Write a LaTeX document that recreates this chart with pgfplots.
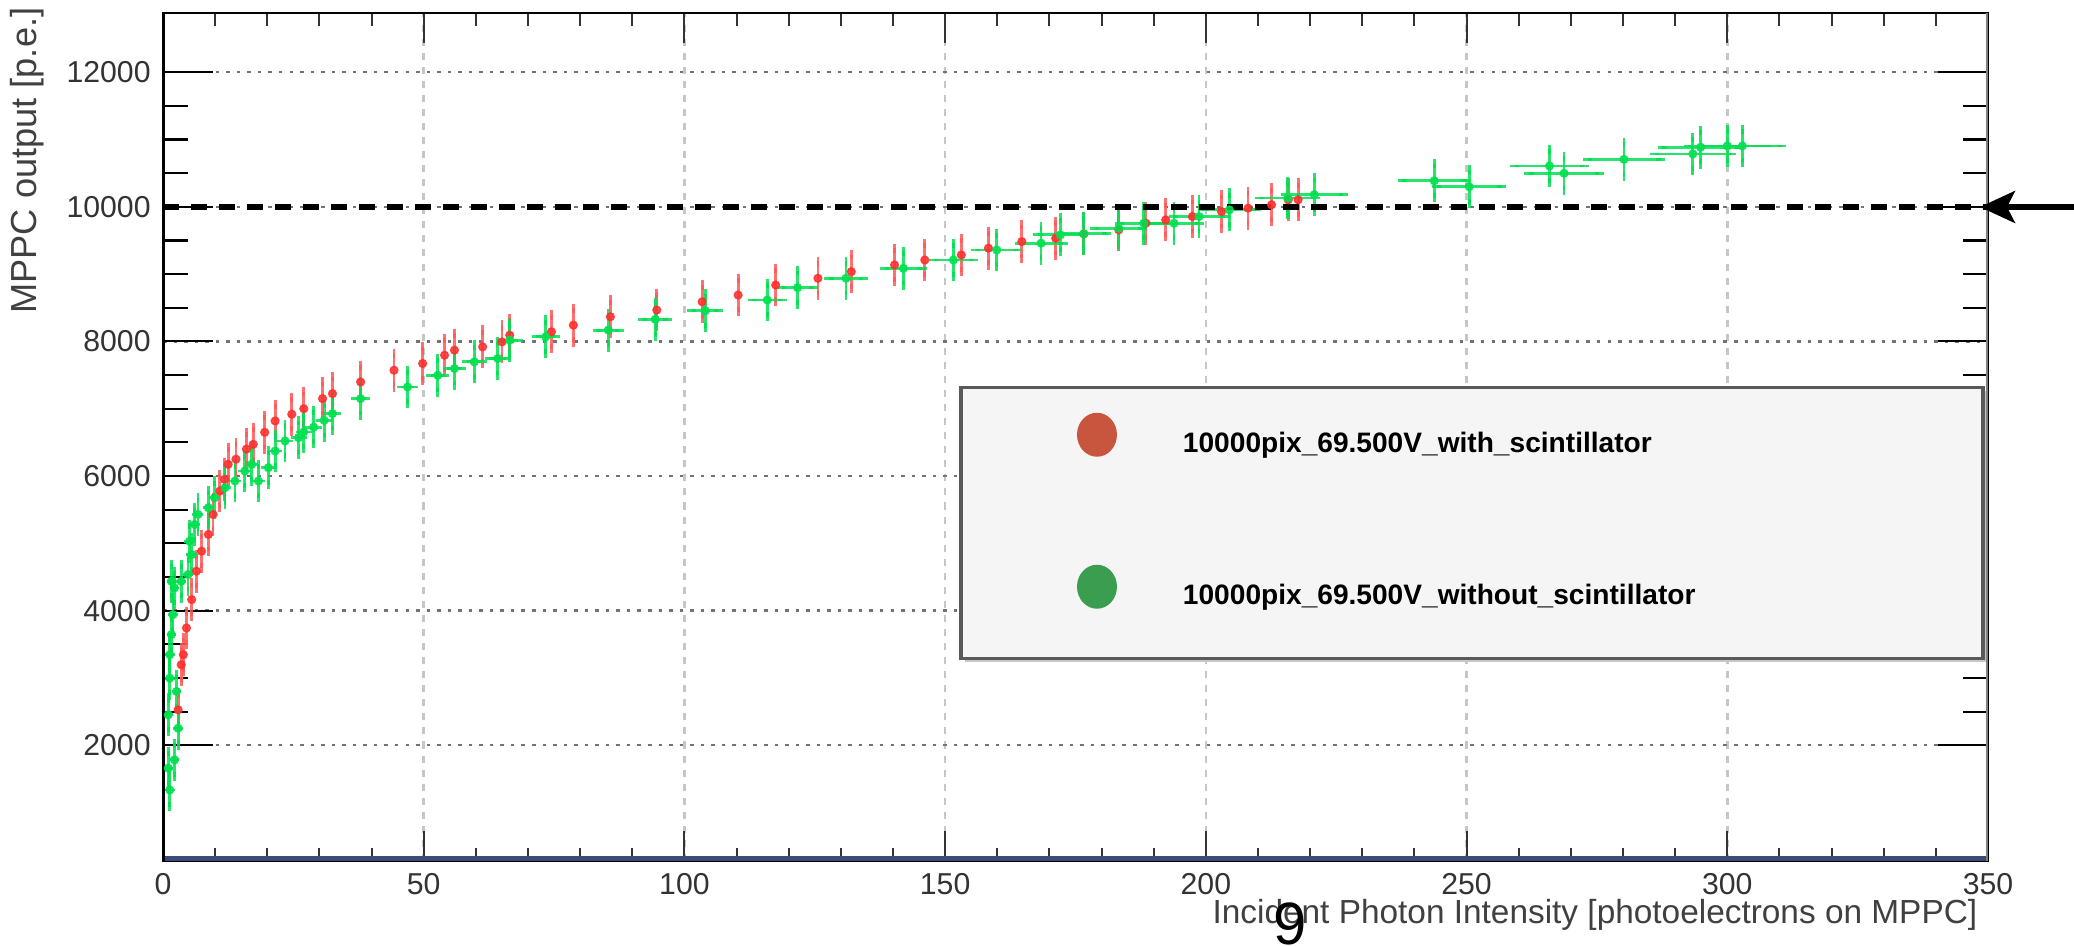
\documentclass[border=0pt]{standalone}
\usepackage{pgfplots}
\usepackage{pgfplotstable}
\pgfplotsset{compat=1.18}
\usepackage{fontspec}
\setmainfont{Liberation Sans}
\usetikzlibrary{arrows.meta}

\definecolor{legred}{HTML}{C8553D}
\definecolor{leggreen}{HTML}{3A9D4F}
\definecolor{datred}{HTML}{FF2E2E}
\definecolor{datgreen}{HTML}{00E050}
\definecolor{navy}{HTML}{3C4A78}

\pgfplotstableread{
x y
2.9 2526
3.5 3196
3.9 3345
4.5 3742
5.5 4164
6.4 4586
7.4 4883
8.7 5132
9.6 5429
10.9 5777
11.8 5950
12.5 6174
14.0 6250
16.0 6400
17.3 6471
19.5 6650
21.5 6819
24.7 6918
27.0 7000
30.6 7150
32.5 7225
37.9 7398
44.3 7572
49.8 7672
54.0 7795
55.9 7870
61.3 7919
65.0 7993
66.5 8093
74.5 8143
78.7 8242
85.8 8366
94.7 8466
103.4 8589
110.3 8689
117.5 8838
125.6 8938
132.0 9036
140.3 9136
146.1 9210
153.1 9285
158.3 9385
164.7 9483
171.2 9533
176.6 9598
183.3 9657
188.5 9757
192.3 9806
197.4 9856
203.0 9930
208.1 9980
212.6 10030
215.8 10104
217.7 10104
}\redtab

\pgfplotstableread{
x y
1.0 1660
1.3 1335
2.2 1782
2.9 2253
1.0 2452
2.6 2799
1.3 2997
1.3 3345
1.6 3643
1.9 3940
2.2 4337
1.6 4437
3.5 4437
4.8 4536
5.5 4834
5.1 5032
6.1 5280
6.7 5429
8.7 5529
9.9 5677
11.9 5826
13.8 5926
15.7 6074
17.0 6174
18.3 5926
20.2 6124
21.5 6372
23.4 6521
26.0 6571
27.0 6653
28.9 6727
30.9 6827
32.5 6927
37.9 7150
46.9 7323
52.7 7497
55.9 7597
59.7 7696
64.2 7746
66.5 8019
73.4 8068
85.4 8168
94.4 8327
104.0 8455
115.9 8615
121.7 8798
131.0 8938
142.0 9087
151.6 9210
159.9 9359
168.4 9459
172.1 9583
176.6 9598
183.3 9680
188.1 9757
193.9 9757
198.7 9856
204.5 9955
215.7 10130
220.8 10180
243.8 10388
250.5 10299
265.9 10607
268.7 10498
280.2 10706
293.4 10786
294.9 10886
300.0 10905
302.9 10905
}\greentab

\begin{document}
\begin{tikzpicture}
\path[use as bounding box] (0,0) rectangle (20.74,9.47);
\begin{axis}[
  scale only axis,
  width=18.25cm, height=8.48cm,
  at={(1.63cm,0.86cm)}, anchor=south west,
  xmin=0, xmax=350, ymin=280, ymax=12880,
  xtick={0,50,...,350}, ytick={2000,4000,...,12000},
  minor x tick num=4, minor y tick num=3,
  tick align=inside,
  xtick style={/pgfplots/major tick length=0.3cm, /pgfplots/minor tick length=0.13cm, black!80, line width=0.6pt},
  ytick style={/pgfplots/major tick length=0.5cm, /pgfplots/minor tick length=0.25cm, black, line width=0.6pt},
  grid=major,
  x grid style={gray!45, dash pattern=on 2pt off 2pt, line width=0.7pt},
  y grid style={black!55, dash pattern=on 1pt off 2pt, line width=0.7pt},
  axis line style={black, line width=0.6pt},
  ticklabel style={font=\fontsize{8.6}{10}\selectfont, text=black!80},
  /pgf/number format/assume math mode=true,
  yticklabel style={/pgf/number format/.cd, fixed, set thousands separator={}},
  scaled ticks=false,
  xlabel={Incident Photon Intensity [photoelectrons on MPPC]},
  xlabel style={at={(axis description cs:0.9945,-0.0635)}, anchor=east, font=\fontsize{9.5}{11}\selectfont, text=black!75, inner sep=0pt},
  ylabel={MPPC output [p.e.]},
  ylabel style={at={(axis description cs:-0.0747,1.0071)}, anchor=east, font=\fontsize{10.3}{12}\selectfont, text=black!75, inner sep=0pt},
  legend cell align=left,
  legend style={at={(axis cs:152.7,7338)}, anchor=north west,
    fill=black!4, draw=black!65, line width=1pt,
    inner xsep=0pt, inner ysep=0.2cm,
    row sep=0.73cm, column sep=0.12cm,
    nodes={inner sep=0pt},
    font=\fontsize{8}{10}\selectfont\bfseries},
]
\addplot[forget plot, only marks, mark=*, mark size=1.1pt, color=datred, opacity=0.85,
  error bars/.cd, y dir=both, y fixed=250,
  error bar style={color=datred!80, line width=0.8pt},
  error mark options={color=datred!80, mark size=1.3pt, line width=0.8pt}]
  table {\redtab};
\addplot[forget plot, only marks, mark=*, mark size=1.1pt, color=datgreen, opacity=0.85,
  error bars/.cd, y dir=both, y fixed=250, x dir=both, x fixed relative=0.025,
  error bar style={color=datgreen, line width=0.8pt},
  error mark options={color=datgreen, mark size=1.3pt, line width=0.8pt}]
  table {\greentab};
\addplot[forget plot, black, line width=1.6pt, dash pattern=on 0.16cm off 0.12cm] coordinates {(0,10000) (350,10000)};
\fill[black!22] (axis cs:153.8,7262) rectangle (axis cs:351,3236);
\draw[navy, line width=3pt] (rel axis cs:0,0) -- (rel axis cs:1,0);
\draw[black, line width=1.3pt] (rel axis cs:0,0) -- (rel axis cs:0,1);
\draw[gray, line width=1.3pt] (rel axis cs:1,0) -- (rel axis cs:1,1);
\node[anchor=west, font=\fontsize{8}{9}\selectfont, text=black!75, inner sep=0pt] at ([xshift=0.08cm, yshift=0.16cm]rel axis cs:1,0) {×10\textsuperscript{3}};
\addlegendimage{legend image code/.code={\path[draw=none, fill=none] (0,-0.42cm) rectangle (2.1cm,0.37cm); \fill[legred, draw=none] (1.36cm,0.1cm) ellipse [x radius=0.2cm, y radius=0.22cm];}}
\addlegendentry{\makebox[8.0cm][l]{10000pix\_69.500V\_with\_scintillator}}
\addlegendimage{legend image code/.code={\path[draw=none, fill=none] (0,-0.42cm) rectangle (2.1cm,0.37cm); \fill[leggreen, draw=none] (1.36cm,0.1cm) ellipse [x radius=0.2cm, y radius=0.22cm];}}
\addlegendentry{\makebox[8.0cm][l]{10000pix\_69.500V\_without\_scintillator}}
\end{axis}
\node[font=\fontsize{17}{17}\selectfont, anchor=base, inner sep=0pt] at (12.90,0.02) {9};
\draw[black, line width=1.5pt, -{Stealth[length=0.35cm, width=0.32cm, inset=0.08cm]}] (21.0,7.40) -- (19.80,7.40);
\end{tikzpicture}
\end{document}
